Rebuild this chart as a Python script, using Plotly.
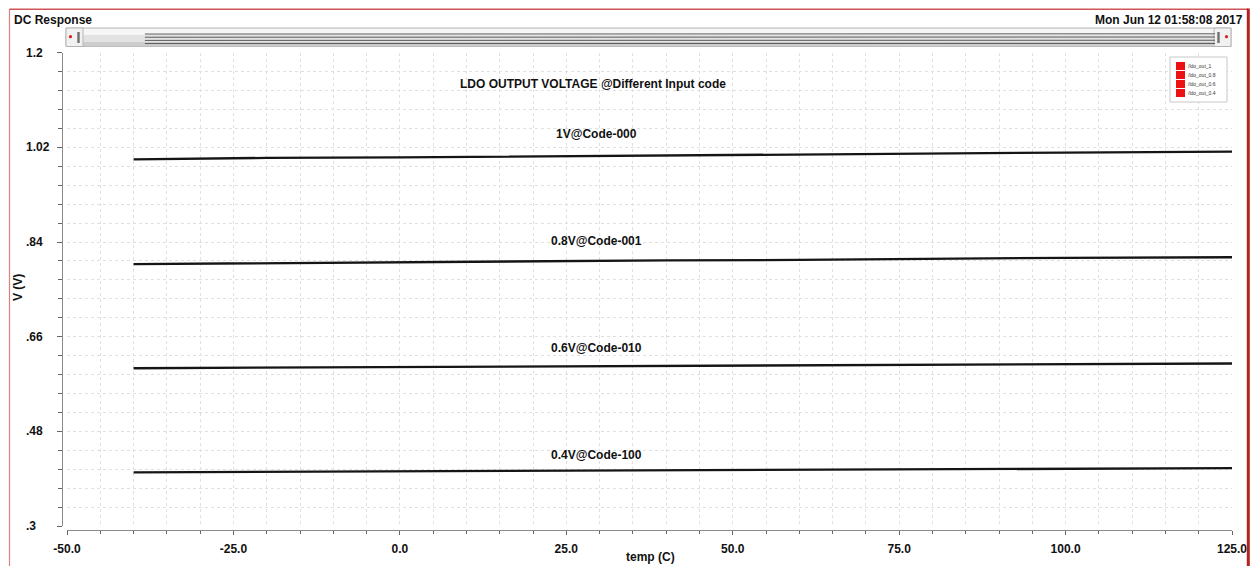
import plotly.graph_objects as go

# ---------------- data ----------------
temps = [-40, -20, 0, 20, 40, 60, 80, 100, 125]
v_1v0 = [0.997, 1.000, 1.001, 1.003, 1.005, 1.007, 1.008, 1.010, 1.012]
v_0v8 = [0.798, 0.800, 0.801, 0.803, 0.805, 0.806, 0.808, 0.810, 0.811]
v_0v6 = [0.600, 0.601, 0.602, 0.604, 0.605, 0.606, 0.607, 0.608, 0.609]
v_0v4 = [0.402, 0.403, 0.404, 0.405, 0.406, 0.407, 0.408, 0.409, 0.410]

series_names = ["/ldo_out_1", "/ldo_out_0.8", "/ldo_out_0.6", "/ldo_out_0.4"]
series_labels = ["1V@Code-000", "0.8V@Code-001", "0.6V@Code-010", "0.4V@Code-100"]
series_values = [v_1v0, v_0v8, v_0v6, v_0v4]

x_tick_vals = [-50, -25, 0, 25, 50, 75, 100, 125]
x_tick_text = ["-50.0", "-25.0", "0.0", "25.0", "50.0", "75.0", "100.0", "125.0"]
y_tick_vals = [1.2, 1.02, 0.84, 0.66, 0.48, 0.3]
y_tick_text = ["1.2", "1.02", ".84", ".66", ".48", ".3"]

chart_title = "LDO OUTPUT VOLTAGE @Different Input code"
window_title = "DC Response"
timestamp = "Mon Jun 12 01:58:08 2017"
x_title = "temp (C)"
y_title = "V (V)"

# ---------------- layout helpers ----------------
W, H = 1251, 566
FONT = "Liberation Sans, Arial, Helvetica, sans-serif"


def px(x):
    return x / W


def py(y):
    return 1 - y / H


label_x = 29.6
label_y = [1.045, 0.842, 0.638, 0.435]

fig = go.Figure()

for name, vals in zip(series_names, series_values):
    fig.add_trace(go.Scatter(x=temps, y=vals, mode="lines", name=name,
                             line=dict(color="#151515", width=2.3),
                             showlegend=False, hoverinfo="x+y"))
    # miniature in the overview strip
    fig.add_trace(go.Scatter(x=temps, y=vals, mode="lines", name=name,
                             xaxis="x2", yaxis="y2",
                             line=dict(color="#5a5a5a", width=1),
                             showlegend=False, hoverinfo="skip"))

grid_col = "#e0e0e0"
fig.update_layout(
    width=W, height=H, autosize=False,
    margin=dict(l=0, r=0, t=0, b=0, pad=0, autoexpand=False),
    paper_bgcolor="white",
    plot_bgcolor="rgba(0,0,0,0)",
    font=dict(family=FONT, color="#111111"),
    showlegend=False,
    xaxis=dict(
        domain=[px(67), px(1232)], range=[-50, 125], anchor="free",
        position=py(530), automargin=False,
        showline=True, linecolor="#8a8a8a", linewidth=1,
        ticks="outside", ticklen=4, tickcolor="#666666", tickwidth=1,
        tickmode="array", tickvals=x_tick_vals, ticktext=x_tick_text,
        tickfont=dict(family=FONT, size=12, color="#111111", weight="bold"),
        ticklabelstandoff=4,
        showgrid=True, gridcolor=grid_col, griddash="dot", gridwidth=1,
        zeroline=False,
        minor=dict(tickmode="linear", tick0=-50, dtick=5, ticks="outside",
                   ticklen=3, tickcolor="#666666", showgrid=True,
                   gridcolor=grid_col, griddash="dot", gridwidth=1),
    ),
    yaxis=dict(
        domain=[py(526), py(52.7)], range=[0.3, 1.2], anchor="free",
        position=px(62), automargin=False,
        showline=True, linecolor="#8a8a8a", linewidth=1,
        ticks="outside", ticklen=5, tickcolor="#666666", tickwidth=1,
        tickmode="array", tickvals=y_tick_vals, showticklabels=False,
        showgrid=True, gridcolor=grid_col, griddash="dot", gridwidth=1,
        zeroline=False,
        minor=dict(tickmode="linear", tick0=0.3, dtick=0.036, ticks="outside",
                   ticklen=4, tickcolor="#666666", showgrid=True,
                   gridcolor=grid_col, griddash="dot", gridwidth=1),
    ),
    xaxis2=dict(domain=[px(80), px(1215)], range=[-50, 125], anchor="y2",
                visible=False, fixedrange=True, automargin=False),
    yaxis2=dict(domain=[py(46), py(30)], range=[0.25, 1.25], anchor="x2",
                visible=False, fixedrange=True, automargin=False),
)

shapes = []
# outer red frame
shapes.append(dict(type="line", xref="paper", yref="paper", x0=px(9.5), x1=px(9.5),
                   y0=py(9), y1=py(566), line=dict(color="#e07f7f", width=1.2)))
shapes.append(dict(type="line", xref="paper", yref="paper", x0=px(9.5), x1=px(1248),
                   y0=py(9.2), y1=py(9.2), line=dict(color="#d05555", width=1.5)))
shapes.append(dict(type="line", xref="paper", yref="paper", x0=px(1248.3), x1=px(1248.3),
                   y0=py(8.5), y1=py(566), line=dict(color="#b51f1f", width=3)))

# overview strip (scroll bar)
shapes.append(dict(type="rect", xref="paper", yref="paper", layer="below",
                   x0=px(66), x1=px(1231), y0=py(46.5), y1=py(28),
                   fillcolor="#e3e3e3", line=dict(color="#bcbcbc", width=1)))
shapes.append(dict(type="rect", xref="paper", yref="paper", layer="below",
                   x0=px(67), x1=px(1230), y0=py(35), y1=py(29),
                   fillcolor="#f6f6f6", line=dict(width=0)))
shapes.append(dict(type="rect", xref="paper", yref="paper", layer="below",
                   x0=px(67), x1=px(1230), y0=py(46), y1=py(42),
                   fillcolor="#cdcdcd", line=dict(width=0)))
# end caps
for xa, xb in [(66, 83), (1214, 1231)]:
    shapes.append(dict(type="rect", xref="paper", yref="paper", layer="below",
                       x0=px(xa), x1=px(xb), y0=py(46.5), y1=py(28),
                       fillcolor="#f1f1f1", line=dict(color="#b5b5b5", width=1)))
for xb in [78.5, 1218.5]:
    shapes.append(dict(type="rect", xref="paper", yref="paper",
                       x0=px(xb - 1.2), x1=px(xb + 1.2), y0=py(43), y1=py(32),
                       fillcolor="#707070", line=dict(width=0)))
for xd in [70.5, 1226.5]:
    shapes.append(dict(type="circle", xref="paper", yref="paper",
                       x0=px(xd - 1.6), x1=px(xd + 1.6), y0=py(38.3), y1=py(35.1),
                       fillcolor="#e02020", line=dict(width=0)))

# legend box
lx0, lx1, ly0, ly1 = 1170, 1227, 57, 102
shapes.append(dict(type="rect", xref="paper", yref="paper",
                   x0=px(lx0), x1=px(lx1), y0=py(ly1), y1=py(ly0),
                   fillcolor="white", line=dict(color="#c8c8c8", width=1)))
leg_rows = [66, 75, 84, 93]
annotations = []
for name, ry in zip(series_names, leg_rows):
    shapes.append(dict(type="rect", xref="paper", yref="paper",
                       x0=px(1176), x1=px(1185), y0=py(ry + 4), y1=py(ry - 4),
                       fillcolor="#ee1111", line=dict(width=0)))
    annotations.append(dict(xref="paper", yref="paper", x=px(1187), y=py(ry),
                            xanchor="left", yanchor="middle", text=name,
                            showarrow=False, borderpad=0,
                            font=dict(family=FONT, size=5, color="#333333")))

# y tick labels (left aligned like the original tool)
for v, t in zip(y_tick_vals, y_tick_text):
    annotations.append(dict(xref="paper", yref="y", x=px(25), y=v, xanchor="left",
                            yanchor="middle", text=t, showarrow=False, borderpad=0,
                            font=dict(family=FONT, size=12, color="#111111", weight="bold")))

# series labels
for t, yv in zip(series_labels, label_y):
    annotations.append(dict(xref="x", yref="y", x=label_x, y=yv, text=t,
                            showarrow=False, xanchor="center", yanchor="middle",
                            font=dict(family=FONT, size=12, color="#111111", weight="bold")))

annotations += [
    dict(xref="paper", yref="paper", x=px(593), y=py(84), text=chart_title,
         showarrow=False, xanchor="center", yanchor="middle",
         font=dict(family=FONT, size=12, color="#111111", weight="bold")),
    dict(xref="paper", yref="paper", x=px(12.5), y=py(20), text=window_title,
         showarrow=False, xanchor="left", yanchor="middle", borderpad=0,
         font=dict(family=FONT, size=12, color="#111111", weight="bold")),
    dict(xref="paper", yref="paper", x=px(1243.5), y=py(20), text=timestamp,
         showarrow=False, xanchor="right", yanchor="middle", borderpad=0,
         font=dict(family=FONT, size=12, color="#111111", weight="bold")),
    dict(xref="paper", yref="paper", x=px(650), y=py(557), text=x_title,
         showarrow=False, xanchor="center", yanchor="middle",
         font=dict(family=FONT, size=12, color="#111111", weight="bold")),
    dict(xref="paper", yref="paper", x=px(18), y=py(288), text=y_title,
         showarrow=False, textangle=-90, xanchor="center", yanchor="middle",
         font=dict(family=FONT, size=12, color="#111111", weight="bold")),
]

fig.update_layout(shapes=shapes, annotations=annotations)

fig.write_html(
    "out.html",
    config={"responsive": False, "displayModeBar": False},
    post_script="document.body.style.margin='0';document.body.style.overflow='hidden';",
)
